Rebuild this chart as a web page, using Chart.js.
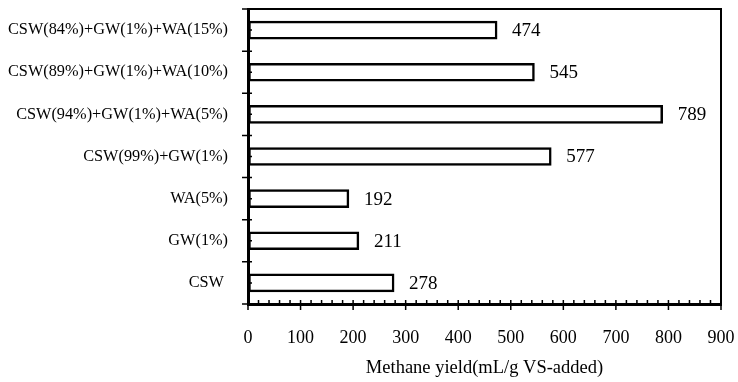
<!DOCTYPE html>
<html>
<head>
<meta charset="utf-8">
<script src="https://cdn.jsdelivr.net/npm/chart.js@4"></script>
<style>
  html, body { margin: 0; padding: 0; background: #fff; }
  #wrap { width: 738px; height: 382px; }
</style>
</head>
<body>
<div id="wrap"><canvas id="chart" width="738" height="382"></canvas></div>
<script>
const categories = [
  "CSW(84%)+GW(1%)+WA(15%)",
  "CSW(89%)+GW(1%)+WA(10%)",
  "CSW(94%)+GW(1%)+WA(5%)",
  "CSW(99%)+GW(1%)",
  "WA(5%)",
  "GW(1%)",
  "CSW "
];
const methaneYield = [474, 545, 789, 577, 192, 211, 278];
const xMin = 0;
const xMax = 900;
const xStep = 100;
const xMinorStep = 20;
const xTitle = "Methane yield(mL/g VS-added)";

const serif = "'Times New Roman', 'Liberation Serif', serif";

// frame on top/right plus the crossing ticks
const frameTicks = {
  id: "frameTicks",
  afterDraw(chart) {
    const ctx = chart.ctx;
    const a = chart.chartArea;
    const xs = chart.scales.x;
    const ys = chart.scales.y;
    ctx.save();
    ctx.strokeStyle = "#000";
    ctx.lineWidth = 2;
    ctx.beginPath();
    ctx.moveTo(a.left, a.top);
    ctx.lineTo(a.right, a.top);
    ctx.lineTo(a.right, a.bottom);
    ctx.stroke();

    // x ticks
    ctx.lineWidth = 1.5;
    ctx.beginPath();
    for (let v = xMin; v <= xMax; v += xMinorStep) {
      const px = xs.getPixelForValue(v);
      if (v % xStep === 0) {
        ctx.moveTo(px, a.bottom - 4);
        ctx.lineTo(px, a.bottom + 6);
      } else {
        ctx.moveTo(px, a.bottom - 4);
        ctx.lineTo(px, a.bottom);
      }
    }
    // y ticks
    for (let i = 0; i <= categories.length; i++) {
      const py = ys.getPixelForValue(i - 0.5);
      ctx.moveTo(a.left - 6, py);
      ctx.lineTo(a.left + 4, py);
    }
    for (let i = 0; i < categories.length; i++) {
      const py = ys.getPixelForValue(i);
      ctx.moveTo(a.left, py);
      ctx.lineTo(a.left + 4, py);
    }
    ctx.stroke();

    // value labels
    ctx.fillStyle = "#000";
    ctx.font = "19px " + serif;
    ctx.textAlign = "left";
    ctx.textBaseline = "middle";
    const meta = chart.getDatasetMeta(0);
    meta.data.forEach((bar, i) => {
      ctx.fillText(String(methaneYield[i]), bar.x + 15, bar.y + 1);
    });
    ctx.restore();
  }
};

const noPad = (s) => {
  s.paddingTop = 0;
  s.paddingBottom = 0;
  s.paddingLeft = 0;
  s.paddingRight = 0;
};

Chart.defaults.color = "#000";
Chart.defaults.font.family = serif;

new Chart(document.getElementById("chart"), {
  type: "bar",
  data: {
    labels: categories,
    datasets: [{
      data: methaneYield,
      backgroundColor: "#fff",
      borderColor: "#000",
      borderWidth: 2.5,
      borderSkipped: false,
      barThickness: 18
    }]
  },
  options: {
    indexAxis: "y",
    responsive: false,
    animation: false,
    layout: { autoPadding: false, padding: { top: 9, right: 17, left: 0, bottom: 0 } },
    plugins: { legend: { display: false }, tooltip: { enabled: false } },
    scales: {
      x: {
        min: xMin,
        max: xMax,
        afterFit: (s) => { s.height = 78; noPad(s); },
        grid: { display: true, drawOnChartArea: false, drawTicks: false },
        border: { display: true, color: "#000", width: 3 },
        ticks: { stepSize: xStep, padding: 23, font: { size: 18 } },
        title: {
          display: true,
          text: xTitle,
          font: { size: 18.5 },
          padding: { top: 0, bottom: 3 }
        }
      },
      y: {
        afterFit: (s) => { s.width = 248; noPad(s); },
        grid: { display: true, drawOnChartArea: false, drawTicks: false },
        border: { display: true, color: "#000", width: 3 },
        ticks: { padding: 20, font: { size: 16.3 } }
      }
    }
  },
  plugins: [frameTicks]
});
</script>
</body>
</html>
